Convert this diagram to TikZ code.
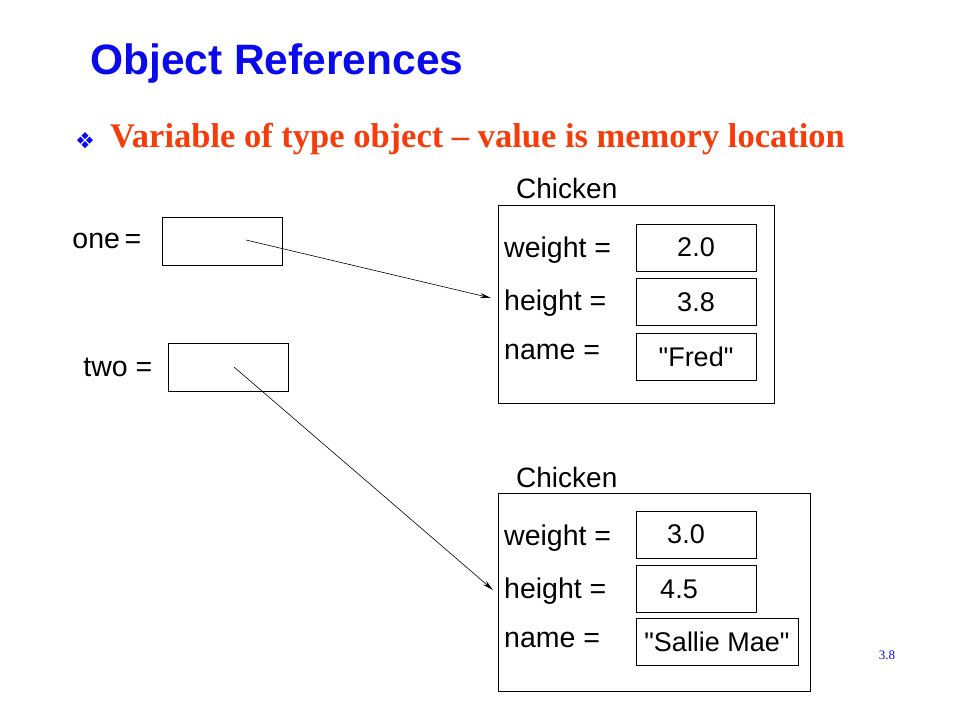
\documentclass[tikz,border=0pt]{standalone}
\usepackage{fontspec}
\setmainfont{Liberation Sans}
\newfontfamily\slideserif{Liberation Serif}
\usepackage{xcolor}
\usepackage{tikz}
\usetikzlibrary{arrows.meta,positioning,calc}

\definecolor{titleblue}{RGB}{10,10,235}
\definecolor{subred}{RGB}{245,60,10}

\begin{document}
\begin{tikzpicture}[x=1pt, y=-1pt,
    objbox/.style={draw, line width=0.9pt, minimum width=276pt, minimum height=198pt, inner sep=0pt},
    valbox/.style={draw, line width=0.9pt, minimum width=120pt, minimum height=47pt, inner sep=0pt, font=\fontsize{27}{29}\selectfont},
    refbox/.style={draw, line width=0.9pt, minimum width=120pt, minimum height=48pt, inner sep=0pt},
    lbl/.style={anchor=west, inner sep=0pt, font=\fontsize{28.5}{30}\selectfont},
    arrow/.style={-{Stealth[length=11pt,width=5pt]}, line width=0.6pt}]

    \useasboundingbox (0,0) rectangle (960,720);

    % heading
    \node[anchor=base west, inner sep=0pt, text=titleblue, font=\fontsize{42.5}{46}\selectfont\bfseries] (title) at (90,74) {Object References};
    \foreach \dx/\dy in {-4.5/0, 4.5/0, 0/-4.5, 0/4.5}
        \fill[titleblue] ($(85,136.5)+(\dx,\dy)$) -- ++(3.5,3.5) -- ++(-3.5,3.5) -- ++(-3.5,-3.5) -- cycle;
    \node[anchor=base west, inner sep=0pt, text=subred, font=\slideserif\fontsize{34.5}{36}\selectfont\bfseries] (sub) at (110,147) {Variable of type object \textendash{} value is memory location};

    % references
    \node[refbox] (one) at (222,241) {};
    \node[lbl, left=20pt of one] {one\,=};
    \node[refbox] (two) at (228,367) {};
    \node[lbl, left=15pt of two] {two =};

    % first object
    \node[objbox] (obj1) at (636,304) {};
    \node[anchor=base west, inner sep=0pt, font=\fontsize{28}{30}\selectfont] at (516,198) {Chicken};
    \node[valbox] (w1) at (696,247.5) {2.0};
    \node[valbox, below=7pt of w1] (h1) {3.8};
    \node[valbox, below=7pt of h1] (n1) {\textquotedbl Fred\textquotedbl};
    \node[lbl] at (504,250) {weight =};
    \node[lbl] at (504,303) {height =};
    \node[lbl] at (504,352) {name =};

    % second object
    \node[objbox, minimum width=312pt] (obj2) at (654,592) {};
    \node[anchor=base west, inner sep=0pt, font=\fontsize{28}{30}\selectfont] at (516,487) {Chicken};
    \node[valbox] (w2) at (696,534.5) {\hspace*{-20pt}3.0};
    \node[valbox, below=7pt of w2] (h2) {\hspace*{-34pt}4.5};
    \node[valbox, minimum width=162pt] (n2) at (717,642) {\textquotedbl Sallie Mae\textquotedbl};
    \node[lbl] at (504,538) {weight =};
    \node[lbl] at (504,591) {height =};
    \node[lbl] at (504,640) {name =};

    % pointers
    \coordinate (p1) at (246,240);
    \coordinate (t1) at (491,298);
    \coordinate (p2) at (234,367);
    \coordinate (t2) at (493,590);
    \draw[arrow] (p1) -- (t1);
    \draw[arrow] (p2) -- (t2);

    \node[text=titleblue, font=\slideserif\fontsize{13}{14}\selectfont] (page) at (887,655) {3.8};
\end{tikzpicture}
\end{document}
